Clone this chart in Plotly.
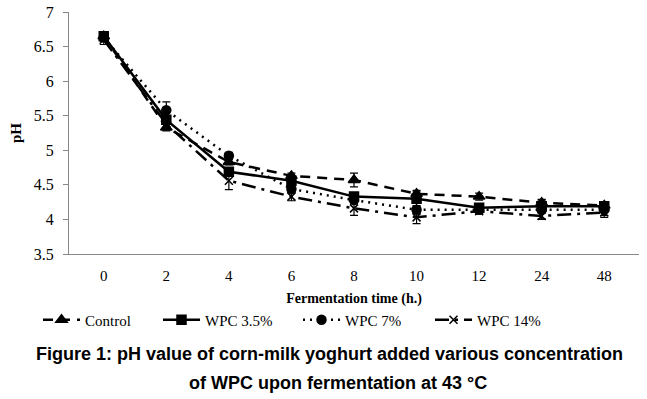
import plotly.graph_objects as go

times = ["0", "2", "4", "6", "8", "10", "12", "24", "48"]
series_names = ["Control", "WPC 3.5%", "WPC 7%", "WPC 14%"]
control = [6.65, 5.33, 4.83, 4.63, 4.57, 4.37, 4.33, 4.24, 4.20]
wpc35 = [6.65, 5.44, 4.69, 4.56, 4.33, 4.30, 4.17, 4.19, 4.19]
wpc7 = [6.63, 5.58, 4.92, 4.44, 4.28, 4.14, 4.14, 4.14, 4.14]
wpc14 = [6.60, 5.38, 4.56, 4.33, 4.16, 4.03, 4.12, 4.05, 4.10]
err_control = [0.05, 0.05, 0.04, 0.04, 0.10, 0.05, 0.05, 0.05, 0.05]
err_wpc35 = [0.05, 0.06, 0.05, 0.05, 0.05, 0.10, 0.05, 0.05, 0.05]
err_wpc7 = [0.05, 0.12, 0.05, 0.05, 0.05, 0.05, 0.05, 0.14, 0.11]
err_wpc14 = [0.07, 0.06, 0.13, 0.06, 0.10, 0.09, 0.04, 0.04, 0.04]

styles = [
    dict(dash="10px,7px", symbol="triangle-up", size=10),
    dict(dash="solid", symbol="square", size=9),
    dict(dash="2px,5px", symbol="circle", size=9),
    dict(dash="14px,6px,3px,6px", symbol="x-thin", size=8),
]
values = [control, wpc35, wpc7, wpc14]
errors = [err_control, err_wpc35, err_wpc7, err_wpc14]
legend_ids = ["legend", "legend2", "legend3", "legend4"]
legend_px = [38, 158, 298, 430]

fig = go.Figure()
for name, vals, errs, st, lg in zip(series_names, values, errors, styles, legend_ids):
    fig.add_trace(go.Scatter(
        x=times, y=vals, name=name, mode="lines+markers", legend=lg,
        line=dict(color="black", width=2.5, dash=st["dash"]),
        marker=dict(symbol=st["symbol"], size=st["size"], color="black",
                    line=dict(color="black", width=1.5)),
        error_y=dict(type="data", array=errs, visible=True, color="black",
                     thickness=1.2, width=4),
    ))

L, R, T, B = 69, 8, 12, 145
PH = 399 - T - B
PW = 647 - L - R

legend_style = dict(orientation="h", xanchor="left", y=-66 / PH, yanchor="middle",
                    font=dict(family="Liberation Serif", size=15, color="black"),
                    itemwidth=37, bgcolor="rgba(0,0,0,0)")
legends = {lg: dict(legend_style, x=(px - L) / PW) for lg, px in zip(legend_ids, legend_px)}

fig.update_layout(
    width=647, height=399,
    margin=dict(l=L, r=R, t=T, b=B, autoexpand=False),
    paper_bgcolor="white", plot_bgcolor="white",
    font=dict(family="Liberation Serif", size=15, color="black"),
    showlegend=True,
    **legends,
    xaxis=dict(type="category", showline=True, linecolor="#888888", linewidth=1,
               ticks="", showgrid=False, zeroline=False, automargin=False,
               ticklabelstandoff=8,
               tickfont=dict(family="Liberation Serif", size=15),
               title=dict(text="<b>Fermentation time (h.)</b>", standoff=10,
                          font=dict(family="Liberation Serif", size=14))),
    yaxis=dict(range=[3.5, 7], dtick=0.5, showline=True, linecolor="#888888", linewidth=1,
               ticks="outside", ticklen=5, tickcolor="#888888", showgrid=False, zeroline=False,
               automargin=False, ticklabelstandoff=6,
               tickfont=dict(family="Liberation Serif", size=16),
               title=dict(text="<b>pH</b>", standoff=8,
                          font=dict(family="Liberation Serif", size=15))),
    annotations=[
        dict(text="<b>Figure 1: pH value of corn-milk yoghurt added various concentration</b>",
             xref="paper", yref="paper", x=(329 - L) / PW, y=(254 - 354) / PH,
             xanchor="center", yanchor="middle", showarrow=False,
             font=dict(family="Liberation Sans", size=18, color="black")),
        dict(text="<b>of WPC upon fermentation at 43 °C</b>",
             xref="paper", yref="paper", x=(338 - L) / PW, y=(254 - 383) / PH,
             xanchor="center", yanchor="middle", showarrow=False,
             font=dict(family="Liberation Sans", size=18, color="black")),
    ],
)

fig.write_html("out.html", config={"displayModeBar": False},
               post_script="document.body.style.margin='0';document.body.style.padding='0';")
